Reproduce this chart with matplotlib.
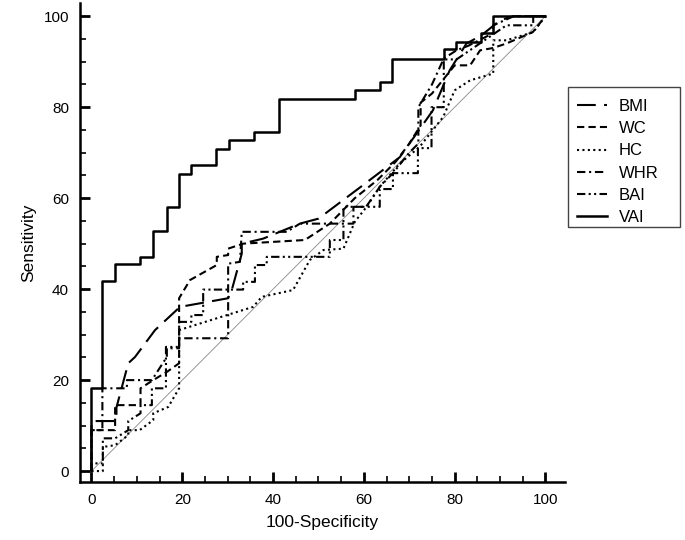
import matplotlib
matplotlib.use("Agg")
import matplotlib.pyplot as plt
from matplotlib.patches import Rectangle
from matplotlib.ticker import MultipleLocator

plt.rcParams['font.family'] = ['Liberation Sans', 'DejaVu Sans']

# ROC points (100-specificity, sensitivity)
vai_fpr = [0, 0, 2.4, 5.2, 10.7, 13.5, 16.6, 19.3, 21.9, 27.4, 30.3, 35.8, 41.3,
           58.0, 63.5, 66.3, 77.6, 80.2, 85.9, 88.5, 100]
vai_tpr = [0, 18.2, 41.8, 45.5, 47.1, 52.8, 58.1, 65.4, 67.2, 70.9, 72.7, 74.5, 81.7,
           83.7, 85.5, 90.7, 92.7, 94.4, 96.3, 100, 100]

bmi_fpr = [0, 0, 5.5, 5.5, 8.1, 9.6, 14.0, 19.5, 30.1, 30.9, 33.1, 33.1, 37.8, 45.9,
           50.0, 60.0, 67.9, 71.6, 75.2, 78.9, 82.6, 85.9, 90.0, 92.9, 100]
bmi_tpr = [0, 11.0, 11.0, 14.0, 23.7, 25.1, 31.0, 36.1, 38.0, 39.8, 47.8, 50.0, 51.1, 54.4,
           55.5, 63.0, 69.0, 74.2, 79.3, 88.1, 94.0, 95.8, 99.1, 100, 100]

wc_fpr = [0, 0, 5.2, 5.2, 10.8, 10.8, 13.6, 16.6, 19.3, 19.3, 21.7, 27.6, 27.6, 30.1, 30.1,
          33.4, 47.0, 52.5, 58.0, 63.0, 67.0, 70.0, 72.5, 72.5, 75.0, 80.0, 83.4, 85.6,
          88.4, 91.4, 97.2, 100]
wc_tpr = [0, 9.0, 9.0, 14.5, 14.5, 18.2, 20.0, 21.8, 23.7, 38.0, 42.0, 45.3, 47.1, 47.5, 48.9,
          50.0, 50.8, 54.4, 60.0, 64.0, 68.0, 72.0, 76.0, 81.0, 83.0, 89.2, 89.2, 92.5,
          93.0, 94.0, 96.5, 100]

hc_fpr = [0, 2.5, 2.5, 5.2, 8.1, 8.1, 10.6, 13.6, 13.6, 16.9, 19.3, 19.3, 35.6, 37.5, 44.4,
          48.1, 51.1, 55.5, 58.0, 60.6, 63.5, 67.9, 72.3, 77.5, 80.0, 83.4, 88.5, 88.5,
          91.4, 97.3, 100]
hc_tpr = [0, 0, 5.3, 5.7, 7.9, 9.0, 9.0, 11.2, 12.7, 14.1, 18.2, 31.0, 36.1, 38.3, 39.8,
          46.4, 48.6, 48.9, 54.8, 58.1, 62.5, 67.6, 71.3, 77.9, 83.7, 85.9, 87.4, 94.7,
          94.7, 96.5, 100]

whr_fpr = [0, 0, 2.4, 2.4, 7.8, 7.8, 13.3, 16.6, 16.6, 19.3, 19.3, 30.1, 30.1, 32.7, 33.1,
           43.0, 45.9, 57.7, 57.7, 60.5, 63.5, 66.4, 70.0, 72.0, 72.0, 75.0, 77.6, 80.4,
           83.0, 88.5, 88.5, 93.0, 100]
whr_tpr = [0, 9.0, 9.0, 18.2, 18.2, 20.0, 20.0, 25.1, 27.0, 27.0, 29.2, 29.2, 45.6, 46.0, 52.6,
           52.6, 54.4, 54.4, 58.1, 58.1, 62.5, 65.5, 70.0, 72.0, 80.0, 85.0, 90.7, 92.5,
           93.5, 96.3, 98.0, 100, 100]

bai_fpr = [0, 0, 2.5, 2.5, 5.2, 8.1, 8.1, 10.8, 10.8, 13.3, 13.3, 16.4, 16.4, 19.3, 19.3,
           22.0, 22.0, 24.6, 24.6, 33.4, 33.4, 36.0, 36.0, 38.6, 38.6, 52.5, 52.5, 55.5,
           55.5, 63.5, 63.5, 66.4, 66.4, 71.9, 71.9, 74.9, 74.9, 77.6, 77.6, 80.4, 91.4,
           97.3, 97.3, 100]
bai_tpr = [0, 1.7, 1.7, 7.2, 7.2, 9.0, 11.0, 12.7, 14.5, 14.5, 18.2, 18.2, 27.3, 27.3, 32.8,
           32.8, 34.3, 34.3, 39.9, 39.9, 41.6, 41.6, 45.3, 45.3, 47.1, 47.1, 50.8, 50.8,
           58.1, 58.1, 62.0, 62.0, 65.5, 65.5, 71.0, 71.0, 80.0, 80.0, 90.5, 90.5, 98.0,
           98.0, 100, 100]

fig = plt.figure(figsize=(6.85, 5.4), dpi=100)
ax = fig.add_axes([0.1168, 0.1074, 0.708, 0.887])

ax.plot([0, 100], [0, 100], color='#888888', lw=0.6, zorder=1)

lw = 1.5
ax.plot(bmi_fpr, bmi_tpr, color='black', lw=lw, dashes=(9, 4), label='BMI')
ax.plot(wc_fpr, wc_tpr, color='black', lw=lw, dashes=(3.5, 2), label='WC')
ax.plot(hc_fpr, hc_tpr, color='black', lw=lw, dashes=(1, 1.6), label='HC')
ax.plot(whr_fpr, whr_tpr, color='black', lw=lw, dashes=(4, 1.8, 1, 1.8), label='WHR')
ax.plot(bai_fpr, bai_tpr, color='black', lw=lw, dashes=(4, 1.6, 1, 1.6, 1, 1.6), label='BAI')
ax.plot(vai_fpr, vai_tpr, color='black', lw=1.8, drawstyle='steps-post', label='VAI')

ax.set_xlim(-2.53, 104.3)
ax.set_ylim(-2.4, 102.9)

for side in ['top', 'right']:
    ax.spines[side].set_visible(False)
for side in ['left', 'bottom']:
    ax.spines[side].set_linewidth(1.8)

ax.xaxis.set_major_locator(MultipleLocator(20))
ax.yaxis.set_major_locator(MultipleLocator(20))
ax.set_xticks([t for t in range(0, 101, 5)], minor=True)
ax.set_yticks([t for t in range(0, 101, 5)], minor=True)
ax.tick_params(which='major', direction='in', length=7, width=2, labelsize=11, pad=8)
ax.tick_params(which='minor', direction='in', length=4, width=1.2)

ax.set_xlabel('100-Specificity', fontsize=12.5, labelpad=6)
ax.set_ylabel('Sensitivity', fontsize=12.5, labelpad=5)

# legend frame drawn separately so it can be wider than the entries
fig.add_artist(Rectangle((568 / 685, 1 - 227 / 540), 112 / 685, 140 / 540,
                         transform=fig.transFigure, fill=False,
                         edgecolor='#444444', lw=1.0))
fig.legend(loc='upper left', bbox_to_anchor=(568 / 685, 1 - 90 / 540),
           bbox_transform=fig.transFigure, frameon=False,
           borderaxespad=0, fontsize=12, handlelength=1.8, labelspacing=0.43,
           borderpad=0.55, handletextpad=0.7)

fig.savefig('out.png', dpi=100)
